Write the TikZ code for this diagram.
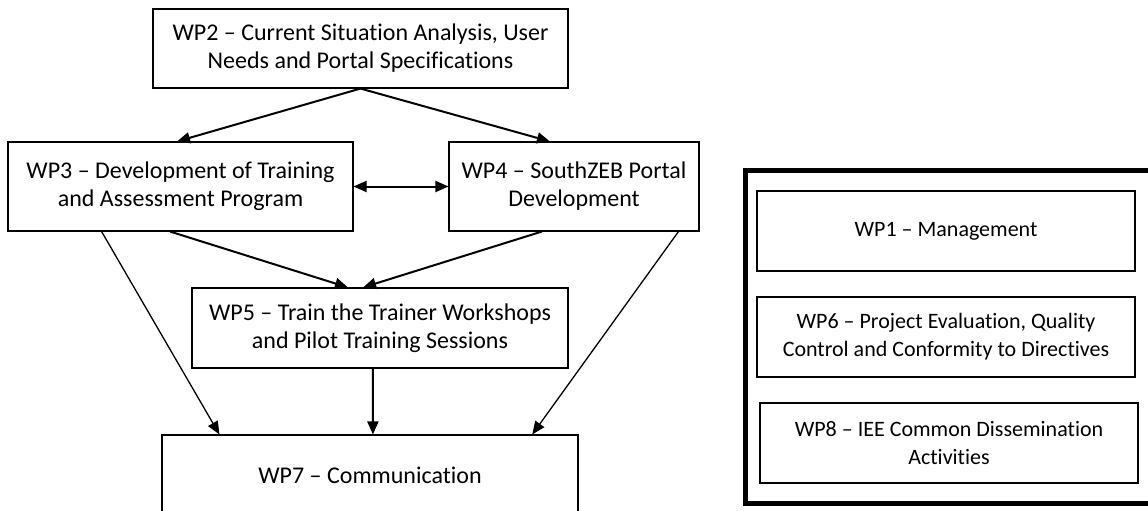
\documentclass[tikz,border=0pt]{standalone}
\usepackage{fontspec}
\setmainfont{Carlito}[Ligatures=NoCommon]
\usetikzlibrary{arrows.meta,calc}
\begin{document}
\begin{tikzpicture}[x=1pt,y=-1pt,
  wpbox/.style={draw=black, line width=1.1pt, rectangle, inner sep=0pt, align=center,
    font=\fontsize{24}{28}\selectfont},
  sidebox/.style={wpbox, font=\fontsize{22}{28}\selectfont},
  frame/.style={draw=black, line width=5pt, rectangle, inner sep=0pt},
  flow/.style={line width=2pt, -{Triangle[length=13pt,width=11pt]}},
  thinflow/.style={line width=1.3pt, -{Triangle[length=13pt,width=11pt]}},
  both/.style={line width=2pt, {Triangle[length=13pt,width=11pt]}-{Triangle[length=13pt,width=11pt]}}]
\useasboundingbox (0,0) rectangle (1148,511);
\clip (0,0) rectangle (1148,511);
\node[wpbox, minimum width=415pt, minimum height=79pt] (wp2) at (360.5,48.5)
  {WP2 -- Current Situation Analysis, User\\Needs and Portal Specifications};
\node[wpbox, minimum width=345pt, minimum height=89pt] (wp3) at (180.5,186.5)
  {WP3 -- Development of Training\\and Assessment Program};
\node[wpbox, minimum width=250pt, minimum height=89pt] (wp4) at (574,186.5)
  {WP4 -- SouthZEB Portal\\Development};
\node[wpbox, minimum width=376pt, minimum height=80pt] (wp5) at (380,328)
  {WP5 -- Train the Trainer Workshops\\and Pilot Training Sessions};
\node[wpbox, minimum width=416pt, minimum height=80pt] (wp7) at (370,475)
  {WP7 -- Communication};
\node[frame, minimum width=415pt, minimum height=333pt] (grp) at (952.5,336.5) {};
\node[sidebox, minimum width=378pt, minimum height=80pt] (wp1) at (946,231)
  {WP1 -- Management};
\node[sidebox, minimum width=378pt, minimum height=80pt] (wp6) at (946,337)
  {WP6 -- Project Evaluation, Quality\\Control and Conformity to Directives};
\node[sidebox, minimum width=378pt, minimum height=80pt] (wp8) at (949,443)
  {WP8 -- IEE Common Dissemination\\Activities};
% connectors
\draw[flow] (wp2.south) -- ($(wp3.north west)!0.49!(wp3.north east)$);
\draw[flow] (wp2.south) -- ($(wp4.north west)!0.404!(wp4.north east)$);
\draw[both] (wp3.east) -- (wp4.west);
\draw[flow] ($(wp3.south west)!0.47!(wp3.south east)$) -- ($(wp5.north west)!0.415!(wp5.north east)$);
\draw[flow] ($(wp4.south west)!0.372!(wp4.south east)$) -- ($(wp5.north west)!0.455!(wp5.north east)$);
\draw[thinflow] ($(wp3.south west)!0.272!(wp3.south east)$) -- ($(wp7.north west)!0.139!(wp7.north east)$);
\draw[thinflow] ($(wp4.south west)!0.916!(wp4.south east)$) -- ($(wp7.north west)!0.889!(wp7.north east)$);
\draw[flow] ($(wp5.south west)!0.481!(wp5.south east)$) -- ($(wp7.north west)!0.507!(wp7.north east)$);
\end{tikzpicture}
\end{document}
